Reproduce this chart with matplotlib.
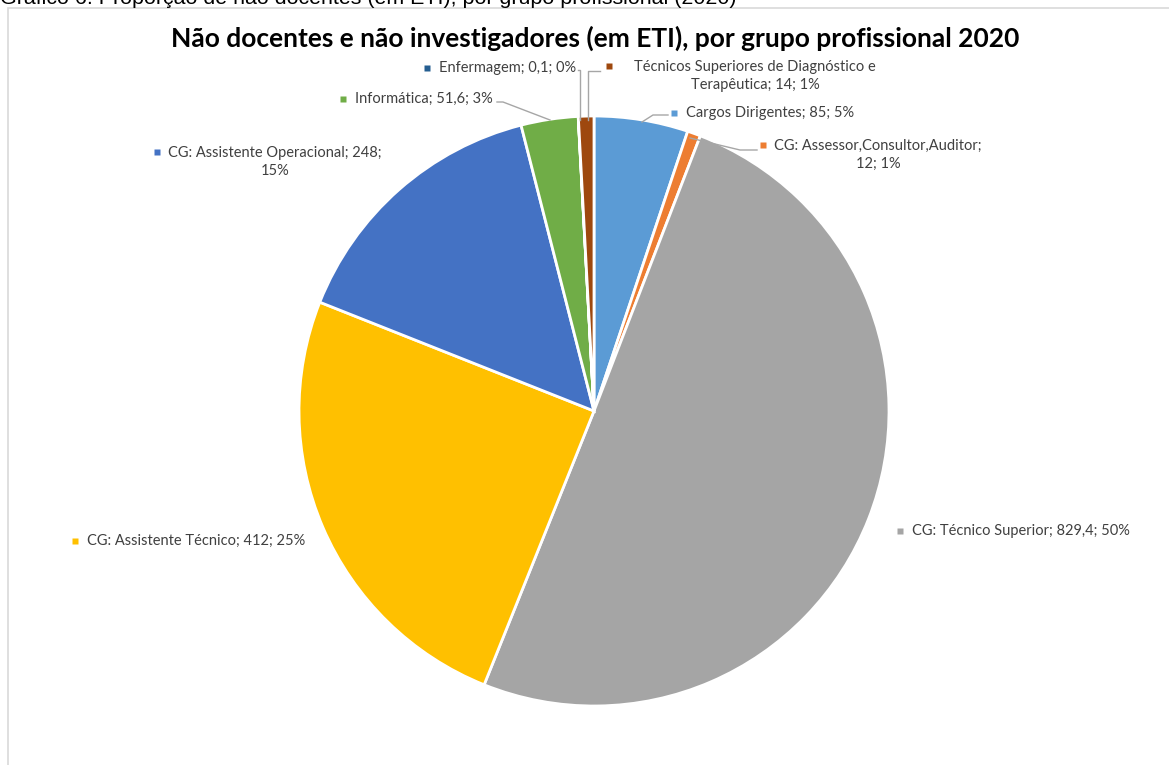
import matplotlib.pyplot as plt
from matplotlib.patches import Rectangle

# data (clockwise from 12 o'clock, as in the original chart)
groups = ["Cargos Dirigentes", "CG: Assessor,Consultor,Auditor", "CG: Técnico Superior",
          "CG: Assistente Técnico", "CG: Assistente Operacional", "Informática",
          "Enfermagem", "Técnicos Superiores de Diagnóstico e Terapêutica"]
values = [85, 12, 829.4, 412, 248, 51.6, 0.1, 14]
value_txt = ["85", "12", "829,4", "412", "248", "51,6", "0,1", "14"]
colors = ["#5B9BD5", "#ED7D31", "#A5A5A5", "#FFC000", "#4472C4", "#70AD47", "#255E91", "#9E480E"]

W, H = 1169, 765
cx, cy, R = 594, 411, 295

fig = plt.figure(figsize=(W / 100, H / 100), dpi=100)
ax = fig.add_axes([0, 0, 1, 1])

def px(x, y):
    # pixel position -> data coords (pie radius = 1)
    return (x - cx) / R, (cy - y) / R

ax.pie(values, colors=colors, startangle=90, counterclock=False, radius=1,
       wedgeprops=dict(edgecolor="white", linewidth=2))
ax.set_xlim(px(0, 0)[0], px(W, 0)[0])
ax.set_ylim(px(0, H)[1], px(0, 0)[1])
ax.set_aspect("auto")
ax.axis("off")

total = sum(values)
pct = ["%d%%" % round(v / total * 100) for v in values]

# label layout: marker pos, text pos, text anchor
font = "Lato"
fs = 10.5
layout = {
    0: dict(m=(674, 113), t=(686, 113), ha="left", lines=None),
    1: dict(m=(763, 145), t=(878, 155), ha="center",
            lines="CG: Assessor,Consultor,Auditor;\n12; 1%"),
    2: dict(m=(900, 531), t=(912, 531), ha="left", lines=None),
    3: dict(m=(75, 541), t=(87, 541), ha="left", lines=None),
    4: dict(m=(157, 152), t=(275, 162), ha="center",
            lines="CG: Assistente Operacional; 248;\n15%"),
    5: dict(m=(343, 99), t=(355, 99), ha="left", lines=None),
    6: dict(m=(427, 68), t=(439, 68), ha="left", lines=None),
    7: dict(m=(609, 66), t=(755, 76), ha="center",
            lines="Técnicos Superiores de Diagnóstico e\nTerapêutica; 14; 1%"),
}
for i, lay in layout.items():
    txt = lay["lines"] or "%s; %s; %s" % (groups[i], value_txt[i], pct[i])
    ax.plot(*px(*lay["m"]), marker="s", ms=5, color=colors[i], mec="none")
    ax.text(*px(*lay["t"]), txt, ha=lay["ha"], va="center", fontsize=fs,
            family=font, color="#404040", linespacing=1.3)

# leader lines
leaders = [
    [(642, 122), (653, 115), (668, 115)],
    [(690, 138), (740, 150), (757, 150)],
    [(550, 120), (503, 102), (497, 102)],
    [(580, 120), (580, 70), (578, 70)],
    [(588, 120), (588, 71), (600, 71)],
]
for pts in leaders:
    xs, ys = zip(*[px(*p) for p in pts])
    ax.plot(xs, ys, color="#A6A6A6", lw=1)

fig.text(595 / W, 1 - 38 / H, "Não docentes e não investigadores (em ETI), por grupo profissional 2020",
         ha="center", va="center", fontsize=19, fontweight="bold", family=font, color="black")

# caption cut at the top edge, as in the source, and the chart frame
fig.text(0, 1 - 4 / H, "Gráfico 6. Proporção de não docentes (em ETI), por grupo profissional (2020)",
         ha="left", va="baseline", fontsize=15.4, family="Liberation Sans", color="black")
fig.patches.append(Rectangle((8 / W, -0.05), 1.2, 1 - 8 / H + 0.05, transform=fig.transFigure,
                             fill=False, edgecolor="#D9D9D9", lw=1.2))

fig.savefig("out.png", dpi=100)
